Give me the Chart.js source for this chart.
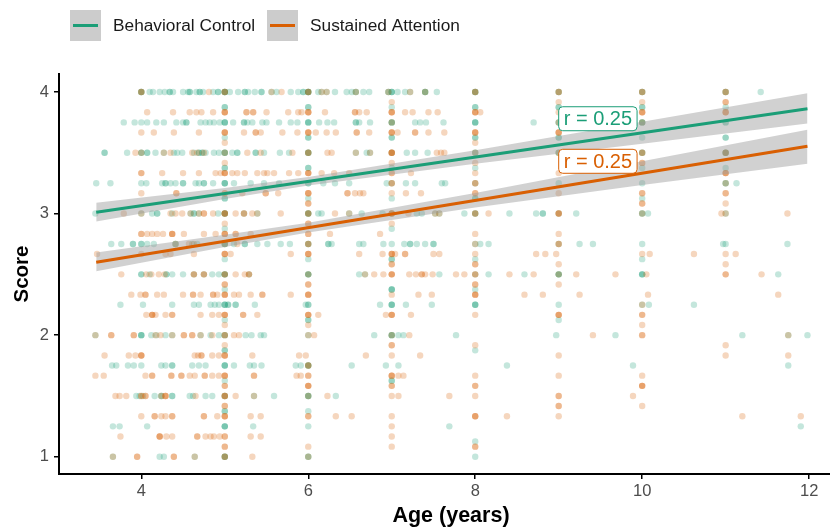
<!DOCTYPE html>
<html>
<head>
    <title>Score by Age</title>
    <script src="https://cdn.jsdelivr.net/npm/chart.js"></script>
    <style>
        html, body { margin: 0; padding: 0; background: #fff; }
        canvas { display: block; }
    </style>
</head>
<body>
    <canvas id="scoreChart" width="830" height="527"></canvas>

    <script>
        const legendLabels = ['Behavioral Control', 'Sustained Attention'];
        const xTitle = 'Age (years)';
        const xTicks = [4, 6, 8, 10, 12];
        const yTicks = [1, 2, 3, 4];

        // Behavioral Control points: one list of ages per score level
        const bcScores = [4, 3.875, 3.75, 3.625, 3.5, 3.375, 3.25, 3.125, 3, 2.875, 2.75, 2.625, 2.5, 2.375, 2.25, 2.125, 2, 1.875, 1.75, 1.625, 1.5, 1.375, 1.25, 1.125, 1];
        const bcAges = [
            [4, 4, 4, 4.10, 4.14, 4.22, 4.28, 4.34, 4.34, 4.38, 4.50, 4.56, 4.58, 4.58, 4.66, 4.70, 4.70, 4.74, 4.86, 4.92, 4.92, 5, 5, 5, 5, 5.06, 5.16, 5.24, 5.24, 5.28, 5.36, 5.44, 5.44, 5.56, 5.62, 5.79, 5.88, 5.94, 5.94, 6, 6, 6, 6, 6.12, 6.16, 6.22, 6.32, 6.46, 6.52, 6.57, 6.57, 6.66, 6.73, 6.96, 6.96, 7, 7, 7, 7.07, 7.16, 7.22, 7.40, 7.40, 7.40, 7.54, 8, 8, 8, 9, 9, 10, 10, 11, 11, 11.42],
            [5, 5, 6, 6, 7, 8, 8, 9, 9, 10, 10, 11],
            [3.79, 3.92, 4, 4.07, 4.18, 4.27, 4.42, 4.50, 4.54, 4.54, 4.71, 4.77, 4.82, 4.87, 4.94, 5, 5, 5, 5.10, 5.23, 5.23, 5.27, 5.33, 5.45, 5.50, 5.65, 5.79, 5.87, 6, 6, 6, 6.13, 6.23, 6.31, 6.57, 6.57, 6.61, 6.74, 7, 7, 7, 7.28, 7.34, 7.41, 7.62, 8, 8, 8, 8.70, 9, 9, 10, 10, 10, 11, 11],
            [5, 6, 6, 7, 7, 8, 8, 9, 9, 10, 11, 11],
            [3.56, 3.56, 3.83, 4, 4, 4.07, 4.07, 4.17, 4.27, 4.39, 4.43, 4.49, 4.63, 4.69, 4.69, 4.73, 4.73, 4.77, 4.87, 4.93, 5, 5, 5, 5.09, 5.15, 5.15, 5.37, 5.37, 5.47, 5.66, 5.77, 6, 6, 6, 6.57, 6.70, 6.74, 7, 7.18, 7.28, 7.43, 8, 8, 9, 9, 10, 10, 11, 11, 11],
            [5, 5, 6, 6, 7, 8, 10, 11],
            [3.46, 3.63, 4, 4.06, 4.25, 4.29, 4.29, 4.35, 4.41, 4.50, 4.50, 4.65, 4.69, 4.75, 4.75, 4.86, 5, 5, 5, 5.11, 5.31, 5.47, 5.65, 6, 6, 6.18, 6.32, 6.49, 6.94, 7, 7.17, 7.28, 7.60, 7.64, 8, 9, 10, 11, 11, 11.13],
            [5, 5, 6, 7, 8, 8, 10],
            [3.45, 4, 4.13, 4.19, 4.19, 4.37, 4.59, 4.63, 4.63, 4.69, 4.92, 5, 5, 5, 5.23, 5.39, 6, 6, 6, 6.12, 6.16, 6.49, 6.64, 6.89, 7, 7.30, 7.36, 7.52, 7.57, 7.87, 8, 8, 8.41, 8.73, 8.81, 8.81, 9, 9.21, 10, 10, 10.07, 11],
            [5, 7],
            [3.64, 3.76, 3.90, 3.90, 4, 4, 4.07, 4.15, 4.41, 4.41, 4.61, 4.67, 5, 5, 5, 5.11, 5.24, 5.24, 5.39, 5.51, 5.67, 5.78, 6, 6, 6.24, 6.24, 6.28, 6.61, 6.66, 6.90, 7, 7.15, 7.22, 7.22, 7.30, 7.40, 7.50, 7.50, 8, 8.06, 8.16, 9, 9.25, 9.41, 10, 10.97, 11, 11.74],
            [5, 6, 7, 7, 8, 10],
            [4, 4, 4.10, 4.30, 4.30, 4.37, 4.50, 4.63, 4.75, 4.85, 4.93, 5, 5, 5, 5.29, 6, 6, 6, 6.61, 6.68, 7.57, 8, 8.16, 8.59, 9, 9, 9, 10, 10, 10, 11.63],
            [5, 7, 7, 7, 8],
            [3.75, 4.02, 4.37, 4.63, 4.69, 4.83, 4.88, 4.93, 5, 5, 5, 5.04, 5.04, 5.13, 5.13, 5.36, 5.97, 6, 6, 6.86, 7, 7, 7, 7.17, 7.48, 8, 8, 8, 9, 10, 10.08, 10.62],
            [5, 6, 6, 9],
            [3.45, 4, 4, 4, 4.12, 4.18, 4.29, 4.37, 4.71, 4.83, 4.93, 5, 5, 5.25, 5.32, 5.43, 5.47, 6, 6.79, 7, 7, 7, 7.08, 7.14, 7.77, 8.97, 9.68, 11.2, 11.75, 11.98],
            [5, 5, 8],
            [3.65, 3.70, 3.84, 3.91, 4, 4.24, 4.29, 4.37, 4.37, 4.61, 4.69, 4.77, 5, 5, 5, 5.11, 5.30, 5.35, 5.44, 5.85, 5.91, 6, 6, 6, 6.52, 6.93, 7.08, 8.38, 9.89, 11.75],
            [5, 7, 7],
            [3.94, 3.98, 4.02, 4.16, 4.24, 4.24, 4.37, 4.37, 4.58, 4.62, 4.77, 4.85, 5, 5, 5.35, 5.59, 6, 6, 6, 6.33],
            [5, 5, 6],
            [3.66, 3.74, 4.07, 5, 5, 5, 5.34, 6, 7.69, 11.9],
            [8],
            [3.66, 4.22, 4.27, 4.64, 5, 5, 5, 6, 6, 8]
        ];

        // Sustained Attention points
        const saScores = [4, 3.917, 3.833, 3.75, 3.667, 3.583, 3.5, 3.417, 3.333, 3.25, 3.167, 3.083, 3, 2.917, 2.833, 2.75, 2.667, 2.583, 2.5, 2.417, 2.333, 2.25, 2.167, 2.083, 2, 1.917, 1.833, 1.75, 1.667, 1.583, 1.5, 1.417, 1.333, 1.25, 1.167, 1.083, 1];
        const saAges = [
            [4, 4, 4.81, 5, 5, 5.56, 5.68, 6, 6, 6.16, 6.22, 6.57, 6.96, 7.22, 7.40, 8, 8, 9, 9, 10, 10, 11, 11],
            [7, 9, 10, 11, 11],
            [4.07, 4.38, 4.58, 4.66, 4.72, 4.86, 5, 5, 5, 5.26, 5.26, 5.34, 5.34, 5.50, 5.76, 5.88, 5.92, 6, 6, 6, 6.20, 6.56, 6.56, 6.61, 6.70, 7, 7, 7, 7.16, 7.25, 7.44, 7.55, 8, 8, 8, 8.06, 9, 10, 10, 10, 11, 11, 11],
            [7, 9, 10],
            [4, 4.15, 4.39, 4.69, 5, 5, 5, 5.23, 5.37, 5.37, 5.43, 5.69, 5.87, 6, 6, 6, 6.09, 6.22, 6.33, 6.58, 6.58, 6.73, 7, 7, 7, 7.07, 7.28, 7.28, 7.44, 7.63, 8, 8, 8, 9, 9, 9],
            [5, 8],
            [3.93, 4, 4.27, 4.35, 4.61, 4.67, 4.75, 5, 5.27, 5.43, 5.81, 6, 6, 6.23, 6.28, 6.57, 6.74, 7, 7, 7, 7, 7.54, 7.59, 7.63, 8, 9, 10, 10, 11, 11],
            [5, 7, 8, 10, 10],
            [4, 4, 4.25, 4.50, 4.69, 4.89, 4.95, 5, 5, 5, 5.09, 5.15, 5.24, 5.39, 5.47, 5.51, 5.59, 5.77, 5.88, 6, 6, 6, 6.16, 6.31, 6.49, 7, 7, 7.23, 8, 9, 11, 11, 11],
            [7, 7, 8, 8, 11],
            [4, 4.42, 4.42, 5, 5, 5.21, 5.49, 5.49, 5.64, 6, 6, 6, 6.47, 6.47, 6.56, 6.62, 6.66, 7, 7.17, 7.35, 8, 8, 9, 10, 10, 11, 11],
            [6, 6, 10, 10, 11],
            [3.79, 4, 4.35, 4.41, 4.49, 4.59, 4.69, 4.75, 4.75, 4.86, 5, 5, 5, 5.13, 5.23, 5.23, 5.33, 5.39, 5.67, 6, 6, 6.32, 6.49, 7, 7, 7, 7.20, 7.52, 7.57, 8, 8, 8.16, 9, 9, 9, 10, 10.95, 11, 11.74],
            [5, 6, 6, 7],
            [4, 4, 4.07, 4.13, 4.19, 4.26, 4.37, 4.37, 4.37, 4.51, 4.75, 4.89, 5, 5, 5, 5.13, 5.13, 5.31, 6, 6, 6.26, 6.86, 8, 9],
            [4.41, 4.57, 4.63, 5, 5.15, 6, 6, 8, 9, 9],
            [3.47, 4, 4.29, 4.35, 4.63, 5, 5, 5, 5.07, 5.79, 6, 6, 6, 6.61, 6.89, 7, 7, 7, 7.04, 7.16, 7.16, 7.50, 7.57, 8, 8.73, 8.84, 8.97, 10, 10.09, 10.62, 11, 11.12],
            [7, 7, 8, 8, 9, 11],
            [3.76, 4.06, 4.12, 4.21, 4.28, 4.63, 4.63, 4.75, 4.75, 5, 5, 5.13, 5.24, 5.29, 5.29, 6, 6.68, 6.79, 6.90, 7, 7, 7, 7.21, 7.29, 7.36, 7.36, 7.40, 7.49, 7.77, 7.87, 8, 8, 8.41, 8.70, 9, 9.21, 9.68, 10.05, 11, 11, 11.43],
            [5, 5, 6, 6, 8, 8, 9],
            [3.88, 3.99, 4.05, 4.05, 4.19, 4.27, 4.50, 4.62, 4.62, 4.71, 4.86, 4.86, 4.91, 5, 5, 5, 5.11, 5.17, 5.31, 5.45, 5.45, 5.79, 6, 6, 6, 7, 7.32, 7.48, 8, 8, 8, 8.59, 8.81, 9.25, 10.07, 11.63],
            [10],
            [4.06, 4.13, 4.13, 4.13, 4.17, 4.29, 4.37, 4.37, 4.71, 4.85, 4.93, 5, 5, 5, 5.22, 5.22, 5.39, 6, 6, 6, 6.12, 6.93, 7, 7, 7, 7.23, 8, 9, 9, 9, 10, 10],
            [5, 6, 10],
            [3.45, 3.64, 3.64, 3.91, 3.91, 4.17, 4.23, 4.37, 4.51, 4.51, 4.61, 4.61, 4.71, 4.85, 5, 5, 5.11, 5.17, 6, 6.07, 7, 7.21, 9.41, 10, 10, 11.75],
            [5, 7, 7, 8, 11],
            [3.56, 3.85, 3.93, 4, 4, 4, 4.64, 4.68, 4.72, 4.72, 4.85, 4.93, 5, 5, 5, 5.33, 5.89, 5.97, 6.69, 7, 7.34, 9, 11, 11.75],
            [6, 6],
            [3.45, 3.55, 4.05, 4.13, 4.13, 4.36, 4.36, 4.48, 4.48, 4.58, 4.64, 4.76, 4.76, 4.85, 4.93, 5, 5, 5, 5.35, 5.35, 5.86, 5.91, 6, 6, 7, 7, 7, 7.08, 7.14, 8, 9, 10],
            [5, 5, 6, 6, 6, 7, 7, 8, 8, 10, 10, 10],
            [3.69, 3.74, 3.82, 4, 4, 4.05, 4.05, 4.24, 4.29, 4.29, 4.29, 4.65, 5, 5, 5, 5.13, 5.35, 6, 6.23, 7, 7.08, 7.69, 8, 9, 9, 9.89],
            [5, 5, 9, 9, 10],
            [4, 4.16, 4.16, 4.24, 4.29, 4.37, 4.37, 4.75, 4.75, 4.91, 5, 5, 5, 5.31, 5.43, 6, 6, 6.33, 6.52, 7, 8, 8, 8, 8.38, 9, 11.2, 11.9],
            [7],
            [3.75, 4.22, 4.22, 4.22, 4.30, 4.37, 4.67, 4.67, 4.77, 4.83, 4.87, 4.94, 5, 5, 5.31, 5.43, 7],
            [5, 5, 6, 7, 8, 8],
            [3.66, 3.95, 3.95, 4.39, 4.39, 4.64, 5, 5, 5.33, 6]
        ];

        // fitted lines and their confidence bands
        const bcLineAges = [3.46, 11.98];
        const bcLineScores = [3.01, 3.863];
        const saLineAges = [3.46, 11.98];
        const saLineScores = [2.60, 3.553];
        const bandAges = [3.46, 5, 6, 8, 10, 11.98];
        const bcBandUpper = [3.09, 3.21, 3.30, 3.52, 3.755, 3.99];
        const bcBandLower = [2.935, 3.12, 3.23, 3.41, 3.575, 3.74];
        const saBandUpper = [2.68, 2.825, 2.925, 3.17, 3.43, 3.69];
        const saBandLower = [2.525, 2.725, 2.845, 3.05, 3.235, 3.41];

        // r labels, placed by their left edge and vertical centre
        const rLabels = ['r = 0.25', 'r = 0.25'];
        const rLabelAges = [9, 9];
        const rLabelScores = [3.78, 3.43];

        const BC_COLOR = '#1b9e77';
        const SA_COLOR = '#d95f02';
        const BAND_COLOR = 'rgba(153,153,153,0.45)';
        const FONT = '"Liberation Sans", Arial, sans-serif';

        function pointsFrom(scores, ages) {
            const pts = [];
            scores.forEach((s, i) => ages[i].forEach(a => pts.push({ x: a, y: s })));
            return pts;
        }

        function pairs(xs, ys) {
            return xs.map((x, i) => ({ x: x, y: ys[i] }));
        }

        const rLabelPlugin = {
            id: 'rLabels',
            afterDatasetsDraw(chart) {
                const ctx = chart.ctx;
                const colors = [BC_COLOR, SA_COLOR];
                ctx.save();
                ctx.font = '20px ' + FONT;
                ctx.textBaseline = 'middle';
                rLabels.forEach((text, i) => {
                    const x = chart.scales.x.getPixelForValue(rLabelAges[i]);
                    const y = chart.scales.y.getPixelForValue(rLabelScores[i]);
                    const w = ctx.measureText(text).width + 10;
                    ctx.beginPath();
                    ctx.roundRect(x, y - 12, w, 24, 4);
                    ctx.fillStyle = '#fff';
                    ctx.fill();
                    ctx.strokeStyle = colors[i];
                    ctx.lineWidth = 1;
                    ctx.stroke();
                    ctx.fillStyle = colors[i];
                    ctx.fillText(text, x + 5, y + 1);
                });
                ctx.restore();
            }
        };

        // legend keys and the x title sit off the panel centre, so they are drawn here
        const keyLegendPlugin = {
            id: 'keyLegend',
            afterDraw(chart) {
                const ctx = chart.ctx;
                const colors = [BC_COLOR, SA_COLOR];
                const keyX = [70, 267];
                ctx.save();
                ctx.font = '17.3px ' + FONT;
                ctx.textBaseline = 'middle';
                legendLabels.forEach((text, i) => {
                    ctx.fillStyle = '#cccccc';
                    ctx.fillRect(keyX[i], 10, 31, 31);
                    ctx.strokeStyle = colors[i];
                    ctx.lineWidth = 3;
                    ctx.beginPath();
                    ctx.moveTo(keyX[i] + 3, 25.5);
                    ctx.lineTo(keyX[i] + 28, 25.5);
                    ctx.stroke();
                    ctx.fillStyle = '#1a1a1a';
                    ctx.fillText(text, keyX[i] + 43, 26);
                });
                ctx.font = 'bold 21.5px ' + FONT;
                ctx.textAlign = 'center';
                ctx.fillStyle = '#000';
                ctx.fillText(xTitle, 451, 516);
                ctx.restore();
            }
        };

        new Chart(document.getElementById('scoreChart').getContext('2d'), {
            data: {
                datasets: [
                    { type: 'scatter', label: legendLabels[0], data: pointsFrom(bcScores, bcAges), order: 4, pointRadius: 3.2, borderWidth: 0, pointBorderWidth: 0, backgroundColor: 'rgba(27,158,119,0.26)' },
                    { type: 'scatter', label: legendLabels[1], data: pointsFrom(saScores, saAges), order: 3, pointRadius: 3.2, borderWidth: 0, pointBorderWidth: 0, backgroundColor: 'rgba(217,95,2,0.26)' },
                    { type: 'line', data: pairs(bandAges, bcBandUpper), order: 2, pointRadius: 0, borderWidth: 0, fill: false },
                    { type: 'line', data: pairs(bandAges, bcBandLower), order: 2, pointRadius: 0, borderWidth: 0, fill: '-1', backgroundColor: BAND_COLOR },
                    { type: 'line', data: pairs(bandAges, saBandUpper), order: 2, pointRadius: 0, borderWidth: 0, fill: false },
                    { type: 'line', data: pairs(bandAges, saBandLower), order: 2, pointRadius: 0, borderWidth: 0, fill: '-1', backgroundColor: BAND_COLOR },
                    { type: 'line', data: pairs(bcLineAges, bcLineScores), order: 1, pointRadius: 0, borderWidth: 3, borderColor: BC_COLOR, fill: false },
                    { type: 'line', data: pairs(saLineAges, saLineScores), order: 1, pointRadius: 0, borderWidth: 3, borderColor: SA_COLOR, fill: false }
                ]
            },
            options: {
                responsive: false,
                animation: false,
                layout: { autoPadding: false, padding: { top: 74, right: 0, left: 0, bottom: 0 } },
                plugins: {
                    legend: { display: false },
                    tooltip: { enabled: false }
                },
                scales: {
                    x: {
                        type: 'linear',
                        min: 3.014,
                        max: 12.25,
                        afterBuildTicks: axis => { axis.ticks = xTicks.map(v => ({ value: v })); },
                        afterFit: axis => { axis.height = 53; axis.paddingLeft = 0; axis.paddingRight = 0; },
                        border: { color: '#000', width: 2 },
                        grid: { drawOnChartArea: false, color: '#000', tickLength: 5, lineWidth: 1.5 },
                        ticks: { color: '#4d4d4d', font: { family: FONT, size: 16.5 }, padding: 3, maxRotation: 0, autoSkip: false }
                    },
                    y: {
                        type: 'linear',
                        min: 0.858,
                        max: 4.148,
                        afterBuildTicks: axis => { axis.ticks = yTicks.map(v => ({ value: v })); },
                        afterFit: axis => { axis.width = 59; axis.paddingTop = 0; axis.paddingBottom = 0; },
                        border: { color: '#000', width: 2 },
                        grid: { drawOnChartArea: false, color: '#000', tickLength: 5, lineWidth: 1.5 },
                        ticks: { color: '#4d4d4d', font: { family: FONT, size: 16.5 }, padding: 5, autoSkip: false },
                        title: { display: true, text: 'Score', color: '#000', font: { family: FONT, size: 20.5, weight: 'bold', lineHeight: 1 }, padding: { top: 12, bottom: 0 } }
                    }
                }
            },
            plugins: [rLabelPlugin, keyLegendPlugin]
        });
    </script>
</body>
</html>
